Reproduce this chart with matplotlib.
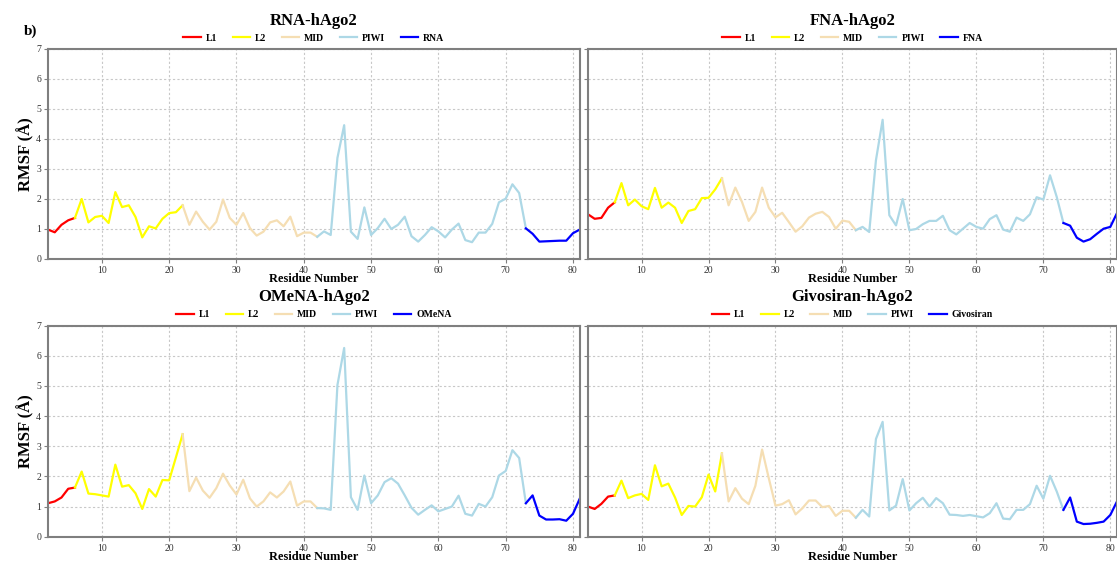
import numpy as np
import matplotlib
matplotlib.use("Agg")
import matplotlib.pyplot as plt

plt.rcParams['font.family'] = ['Liberation Serif', 'DejaVu Serif']

residues = np.arange(2, 82)

rna = [0.98, 0.89, 1.14, 1.29, 1.37, 2.0, 1.22, 1.4, 1.44, 1.2,
       2.23, 1.73, 1.79, 1.4, 0.72, 1.09, 1.02, 1.34, 1.53, 1.56,
       1.79, 1.14, 1.58, 1.24, 0.98, 1.24, 1.98, 1.37, 1.14, 1.53,
       1.03, 0.78, 0.91, 1.22, 1.29, 1.09, 1.41, 0.76, 0.88, 0.88,
       0.74, 0.92, 0.8, 3.37, 4.46, 0.91, 0.67, 1.72, 0.8, 1.03,
       1.34, 1.0, 1.14, 1.41, 0.76, 0.58, 0.8, 1.06, 0.92, 0.72,
       0.98, 1.18, 0.63, 0.56, 0.88, 0.88, 1.17, 1.89, 2.01, 2.49,
       2.2, 1.02, 0.84, 0.58, 0.59, 0.6, 0.61, 0.61, 0.86, 0.98]

fna = [1.49, 1.34, 1.37, 1.71, 1.89, 2.53, 1.79, 1.98, 1.76, 1.66,
       2.37, 1.71, 1.88, 1.71, 1.2, 1.6, 1.66, 2.03, 2.04, 2.32,
       2.69, 1.79, 2.38, 1.9, 1.27, 1.57, 2.38, 1.71, 1.39, 1.54,
       1.23, 0.91, 1.09, 1.38, 1.51, 1.57, 1.4, 1.01, 1.28, 1.24,
       0.96, 1.07, 0.9, 3.29, 4.64, 1.46, 1.12, 2.0, 0.96, 1.0,
       1.16, 1.27, 1.27, 1.44, 0.96, 0.82, 1.01, 1.2, 1.07, 1.01,
       1.33, 1.46, 0.98, 0.91, 1.38, 1.27, 1.49, 2.06, 1.98, 2.79,
       2.07, 1.2, 1.11, 0.71, 0.58, 0.66, 0.84, 1.01, 1.07, 1.53]

omena = [1.11, 1.17, 1.3, 1.59, 1.63, 2.16, 1.43, 1.41, 1.37, 1.33,
         2.39, 1.66, 1.71, 1.44, 0.92, 1.58, 1.33, 1.88, 1.87, 2.63,
         3.4, 1.51, 1.96, 1.53, 1.29, 1.61, 2.09, 1.7, 1.4, 1.89,
         1.27, 1.0, 1.17, 1.47, 1.3, 1.5, 1.83, 1.03, 1.17, 1.17,
         0.95, 0.94, 0.89, 5.03, 6.26, 1.31, 0.89, 2.03, 1.11, 1.37,
         1.81, 1.94, 1.76, 1.37, 0.96, 0.73, 0.89, 1.04, 0.84, 0.92,
         1.0, 1.36, 0.76, 0.7, 1.09, 1.0, 1.31, 2.03, 2.18, 2.87,
         2.61, 1.11, 1.37, 0.7, 0.57, 0.57, 0.58, 0.53, 0.76, 1.26]

givosiran = [1.0, 0.92, 1.09, 1.33, 1.37, 1.86, 1.28, 1.37, 1.42, 1.22,
             2.37, 1.67, 1.76, 1.3, 0.72, 1.02, 1.0, 1.31, 2.06, 1.5,
             2.76, 1.17, 1.61, 1.26, 1.08, 1.69, 2.89, 1.94, 1.03, 1.08,
             1.21, 0.74, 0.94, 1.2, 1.2, 0.98, 1.02, 0.69, 0.86, 0.86,
             0.63, 0.89, 0.67, 3.24, 3.81, 0.87, 1.03, 1.91, 0.87, 1.11,
             1.29, 1.0, 1.28, 1.11, 0.73, 0.72, 0.69, 0.72, 0.68, 0.64,
             0.78, 1.11, 0.6, 0.58, 0.89, 0.89, 1.08, 1.69, 1.26, 2.02,
             1.5, 0.89, 1.3, 0.5, 0.42, 0.43, 0.46, 0.5, 0.72, 1.17]

# domain boundaries (first, last residue, shared endpoints)
domains = ['L1', 'L2', 'MID', 'PIWI']
bounds = [(2, 6), (6, 22), (22, 42), (42, 73), (73, 81)]
colors = ['red', 'yellow', 'wheat', 'lightblue', 'blue']

panels = [('RNA-hAgo2', 'RNA', rna),
          ('FNA-hAgo2', 'FNA', fna),
          ('OMeNA-hAgo2', 'OMeNA', omena),
          ('Givosiran-hAgo2', 'Givosiran', givosiran)]

fig = plt.figure(figsize=(11.17, 5.65), dpi=100)
rects = [[0.043, 0.5416, 0.476, 0.3717],
         [0.5264, 0.5416, 0.4736, 0.3717],
         [0.043, 0.0501, 0.476, 0.3735],
         [0.5264, 0.0501, 0.4736, 0.3735]]

for i, (title, lig, vals) in enumerate(panels):
    ax = fig.add_axes(rects[i])
    vals = np.array(vals)
    names = domains + [lig]
    for (a, b), c, n in zip(bounds, colors, names):
        m = (residues >= a) & (residues <= b)
        ax.plot(residues[m], vals[m], color=c, lw=1.6, label=n)
    ax.set_xlim(2, 81)
    ax.set_ylim(0, 7)
    ax.set_xticks(range(10, 81, 10))
    ax.set_yticks(range(0, 8))
    ax.grid(True, ls=(0, (2, 2)), color='#c8c8c8', lw=0.8)
    for s in ax.spines.values():
        s.set_color('#7f7f7f')
        s.set_linewidth(1.5)
    ax.tick_params(labelsize=7, colors='#333333', length=3, color='#7f7f7f', pad=2)
    if i % 2 == 1:
        ax.tick_params(labelleft=False)
    else:
        ax.set_ylabel('RMSF (Å)', fontsize=12, fontweight='bold', labelpad=1)
    ax.set_xlabel('Residue Number', fontsize=9, fontweight='bold')
    ax.xaxis.set_label_coords(0.5, -0.068)
    ax.set_title(title, fontsize=12, fontweight='bold', pad=17.5)
    ax.legend(loc='lower center', bbox_to_anchor=(0.5, 1.0), ncol=5,
              frameon=False, prop={'weight': 'bold', 'size': 7},
              handlelength=1.8, columnspacing=1.6, handletextpad=0.5,
              borderaxespad=0.25)

fig.text(0.021, 0.945, 'b)', fontsize=11, fontweight='bold', va='center')

fig.savefig('out.png', dpi=100)
